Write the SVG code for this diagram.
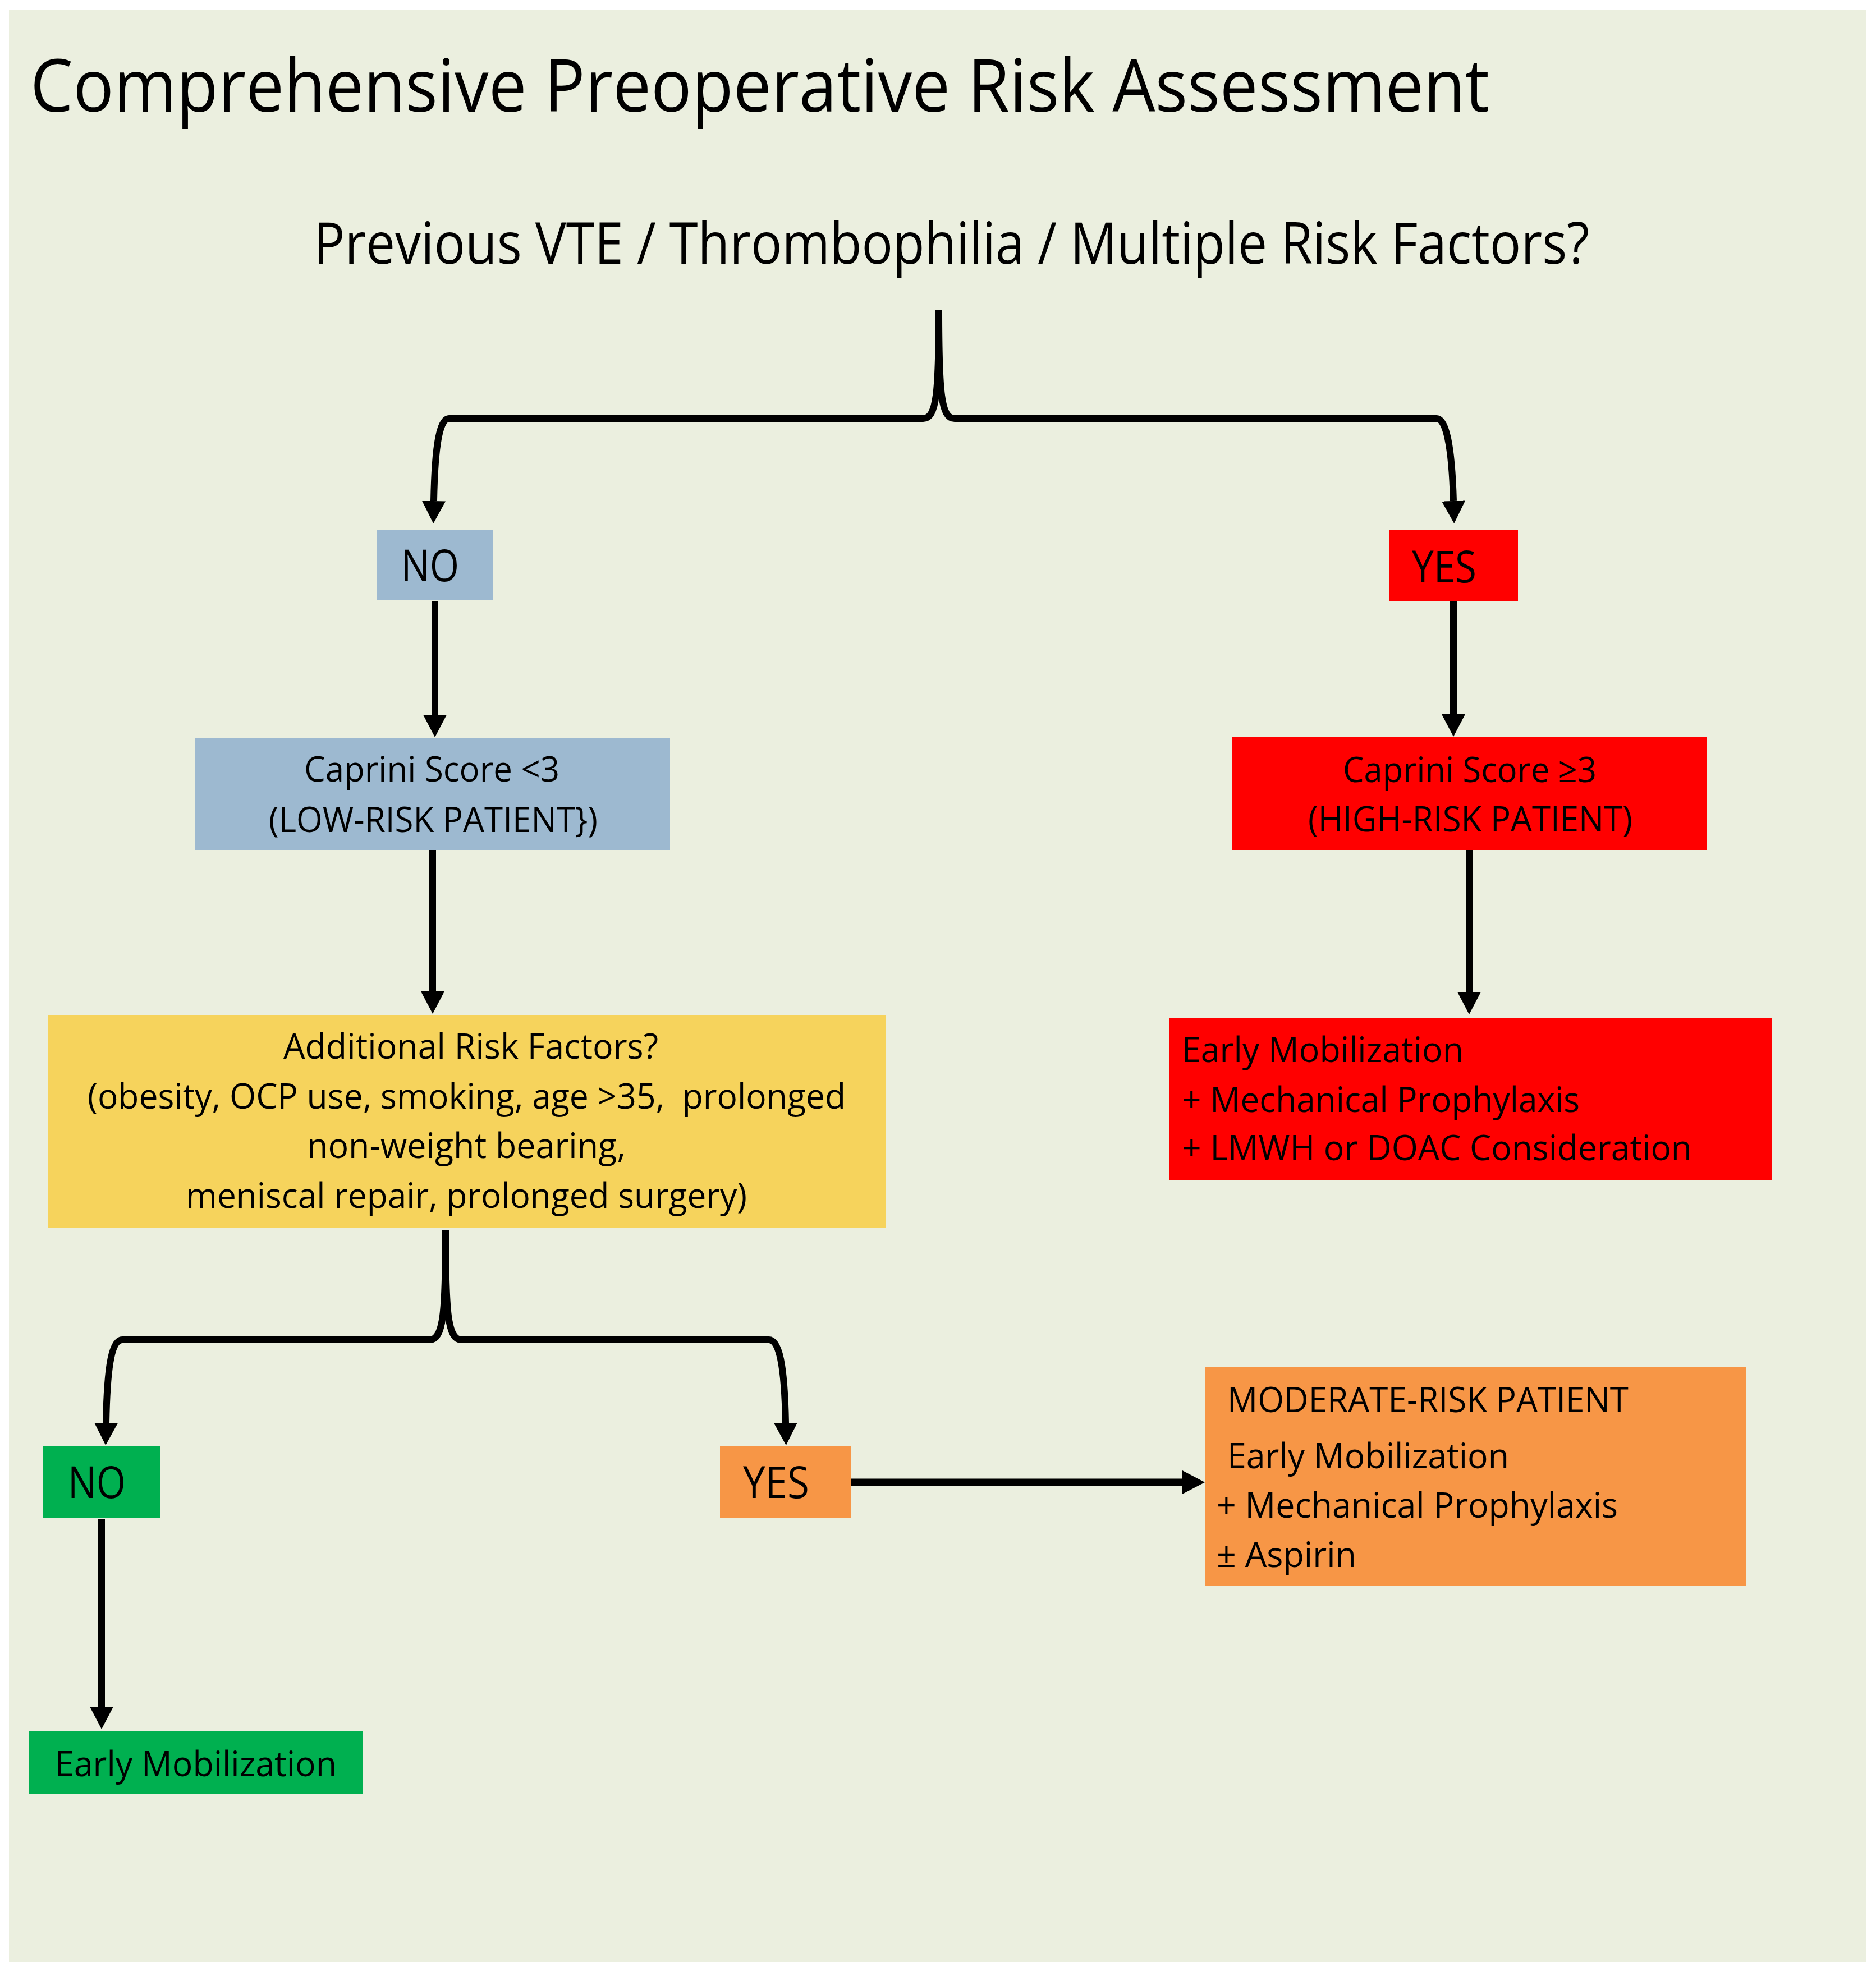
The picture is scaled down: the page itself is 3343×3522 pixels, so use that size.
<svg xmlns="http://www.w3.org/2000/svg" width="3343" height="3522" viewBox="0 0 3343 3522">
<defs>
<style>
text{font-family:"Open Sans","Noto Sans","Liberation Sans",sans-serif;fill:#000;}
.t{font-size:130px;}
.q{font-size:102px;}
.b{font-size:78px;}
.m{font-size:62px;}
.c{stroke:#000;stroke-width:12;fill:none;stroke-linejoin:round;}
.cb{stroke:#000;stroke-width:14;fill:none;stroke-linejoin:round;}
</style>
<marker id="ah" markerUnits="userSpaceOnUse" viewBox="0 0 40 42" markerWidth="40" markerHeight="42" refX="0" refY="21" orient="auto">
<path d="M0,0 L40,21 L0,42 z" fill="#000"/>
</marker>
</defs>
<rect x="0" y="0" width="3343" height="3522" fill="#ffffff"/>
<rect x="16" y="18" width="3309" height="3479" fill="#EBEFDF"/>

<text class="t" x="54" y="199" textLength="2600" lengthAdjust="spacingAndGlyphs">Comprehensive Preoperative Risk Assessment</text>

<g id="q1">
<text class="q" x="559" y="470" textLength="2273" lengthAdjust="spacingAndGlyphs">Previous VTE / Thrombophilia / Multiple Risk Factors?</text>
</g>

<g id="connectors">
<path class="c" d="M1673,552 C1673,700 1669,746 1645,746 L800,746 C784,746 775,790 773,893" marker-end="url(#ah)"/>
<path class="c" d="M1673,552 C1673,700 1677,746 1701,746 L2560,746 C2576,746 2587,790 2590,893" marker-end="url(#ah)"/>
<path class="c" d="M775,1071 L775,1274" marker-end="url(#ah)"/>
<path class="c" d="M2590,1072 L2590,1273" marker-end="url(#ah)"/>
<path class="c" d="M771,1515 L771,1767" marker-end="url(#ah)"/>
<path class="c" d="M2618,1515 L2618,1768" marker-end="url(#ah)"/>
<path class="c" d="M794,2193 C794,2340 790,2388 766,2388 L218,2388 C200,2388 191,2430 189,2536" marker-end="url(#ah)"/>
<path class="c" d="M794,2193 C794,2340 798,2388 822,2388 L1370,2388 C1388,2388 1398,2430 1400,2536" marker-end="url(#ah)"/>
<path class="c" d="M181,2707 L181,3042" marker-end="url(#ah)"/>
<path class="c" style="stroke-width:13" d="M1515,2642 L2107,2642" marker-end="url(#ah)"/>
</g>

<g id="no1">
<rect x="672" y="944" width="207" height="126" fill="#9DB9D0"/>
<text class="b" x="715" y="1036" textLength="103" lengthAdjust="spacingAndGlyphs">NO</text>
</g>
<g id="yes1">
<rect x="2475" y="945" width="230" height="127" fill="#FF0000"/>
<text class="b" x="2516" y="1038" textLength="115" lengthAdjust="spacingAndGlyphs">YES</text>
</g>

<g id="caprini-low">
<rect x="348" y="1315" width="846" height="200" fill="#9DB9D0"/>
<text class="m" x="542" y="1393" textLength="455" lengthAdjust="spacingAndGlyphs">Caprini Score &lt;3</text>
<text class="m" x="479" y="1483" textLength="586" lengthAdjust="spacingAndGlyphs">(LOW-RISK PATIENT})</text>
</g>

<g id="caprini-high">
<rect x="2196" y="1314" width="846" height="201" fill="#FF0000"/>
<text class="m" x="2393" y="1394" textLength="452" lengthAdjust="spacingAndGlyphs">Caprini Score ≥3</text>
<text class="m" x="2331" y="1482" textLength="578" lengthAdjust="spacingAndGlyphs">(HIGH-RISK PATIENT)</text>
</g>

<g id="high-tx">
<rect x="2083" y="1814" width="1074" height="290" fill="#FF0000"/>
<text class="m" x="2106" y="1893" textLength="502" lengthAdjust="spacingAndGlyphs">Early Mobilization</text>
<text class="m" x="2106" y="1982" textLength="709" lengthAdjust="spacingAndGlyphs">+ Mechanical Prophylaxis</text>
<text class="m" x="2106" y="2068" textLength="909" lengthAdjust="spacingAndGlyphs">+ LMWH or DOAC Consideration</text>
</g>

<g id="additional">
<rect x="85" y="1810" width="1493" height="378" fill="#F6D35C"/>
<text class="m" x="505" y="1887" textLength="668" lengthAdjust="spacingAndGlyphs">Additional Risk Factors?</text>
<text class="m" x="156" y="1976" textLength="1351" lengthAdjust="spacingAndGlyphs" xml:space="preserve">(obesity, OCP use, smoking, age &gt;35,  prolonged</text>
<text class="m" x="547" y="2064" textLength="568" lengthAdjust="spacingAndGlyphs">non-weight bearing,</text>
<text class="m" x="331" y="2153" textLength="1000" lengthAdjust="spacingAndGlyphs">meniscal repair, prolonged surgery)</text>
</g>

<g id="no2">
<rect x="76" y="2578" width="210" height="128" fill="#00B050"/>
<text class="b" x="121" y="2670" textLength="103" lengthAdjust="spacingAndGlyphs">NO</text>
</g>
<g id="yes2">
<rect x="1283" y="2578" width="233" height="128" fill="#F79646"/>
<text class="b" x="1324" y="2670" textLength="118" lengthAdjust="spacingAndGlyphs">YES</text>
</g>

<g id="low-tx">
<rect x="51" y="3085" width="595" height="112" fill="#00B050"/>
<text class="m" x="98" y="3166" textLength="502" lengthAdjust="spacingAndGlyphs">Early Mobilization</text>
</g>

<g id="moderate-tx">
<rect x="2148" y="2436" width="964" height="390" fill="#F79646"/>
<text class="m" x="2187" y="2517" textLength="715" lengthAdjust="spacingAndGlyphs">MODERATE-RISK PATIENT</text>
<text class="m" x="2187" y="2617" textLength="502" lengthAdjust="spacingAndGlyphs">Early Mobilization</text>
<text class="m" x="2168" y="2705" textLength="715" lengthAdjust="spacingAndGlyphs">+ Mechanical Prophylaxis</text>
<text class="m" x="2168" y="2793" textLength="249" lengthAdjust="spacingAndGlyphs">± Aspirin</text>
</g>
</svg>
